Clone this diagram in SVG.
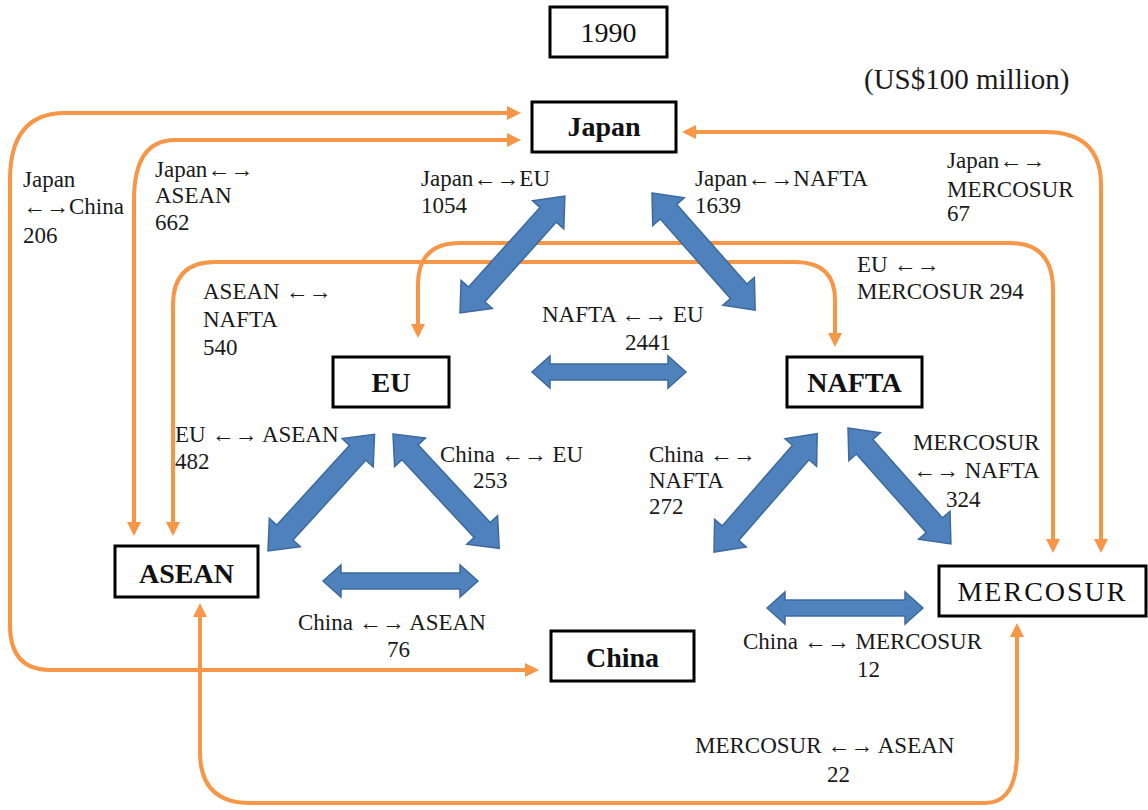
<svg xmlns="http://www.w3.org/2000/svg" width="1148" height="810" viewBox="0 0 1148 810">
  <style>
    .box { fill: #ffffff; stroke: #000000; stroke-width: 3; }
    .node { font-family: "Liberation Serif", "Times New Roman", serif; font-size: 28px; font-weight: bold; fill: #111111; text-anchor: middle; }
    .lbl { font-family: "Liberation Serif", "Times New Roman", serif; font-size: 23px; fill: #1a1a1a; }
    .link { fill: none; stroke: #F79646; stroke-width: 4; marker-start: url(#oa); marker-end: url(#oa); }
    .flow { fill: #4F81BD; stroke: #3C6A9F; stroke-width: 1.5; stroke-linejoin: miter; }
  </style>
  <defs>
    <marker id="oa" viewBox="0 0 14 14" refX="2" refY="7" markerWidth="14" markerHeight="14" markerUnits="userSpaceOnUse" orient="auto-start-reverse">
      <path d="M0,0 L14,7 L0,14 z" fill="#F79646"/>
    </marker>
  </defs>

  <rect width="1148" height="810" fill="#ffffff"/>

  <!-- orange trade links -->
  <g id="connectors">
    <path class="link" d="M527,670 H50 Q10,670 10,625 V180 Q10,113 65,113 H509"/>
    <path class="link" d="M134,524 V200 Q134,140 175,140 H509"/>
    <path class="link" d="M173,524 V305 Q173,262 215,262 H795 Q835,262 835,300 V335"/>
    <path class="link" d="M418,326 V285 Q418,243 460,243 H1010 Q1053,243 1053,290 V541"/>
    <path class="link" d="M694,132 H1045 Q1101,132 1101,185 V541"/>
    <path class="link" d="M200,615 V752 Q200,803 250,803 H985 Q1017,803 1017,752 V635"/>

    <!-- blue double arrows -->
    <path class="flow" transform="translate(460 313) rotate(-48.1)" d="M0,0 L25,-21 L25,-11 L132,-11 L132,-21 L157,0 L132,21 L132,11 L25,11 L25,21 Z"/>
    <path class="flow" transform="translate(652 193) rotate(48.6)" d="M0,0 L25,-21 L25,-11 L131,-11 L131,-21 L156,0 L131,21 L131,11 L25,11 L25,21 Z"/>
    <path class="flow" transform="translate(268 551) rotate(-47.6)" d="M0,0 L25,-21 L25,-11 L133,-11 L133,-21 L158,0 L133,21 L133,11 L25,11 L25,21 Z"/>
    <path class="flow" transform="translate(393 434) rotate(47.1)" d="M0,0 L25,-21 L25,-11 L131,-11 L131,-21 L156,0 L131,21 L131,11 L25,11 L25,21 Z"/>
    <path class="flow" transform="translate(714 552) rotate(-48.9)" d="M0,0 L25,-21 L25,-11 L132,-11 L132,-21 L157,0 L132,21 L132,11 L25,11 L25,21 Z"/>
    <path class="flow" transform="translate(848 428) rotate(48.4)" d="M0,0 L25,-21 L25,-11 L130,-11 L130,-21 L155,0 L130,21 L130,11 L25,11 L25,21 Z"/>
    <path class="flow" d="M532,372 l18,-16 v8 h118 v-8 l18,16 l-18,16 v-8 h-118 v8 z"/>
    <path class="flow" d="M323,581 l18,-16 v8 h119 v-8 l18,16 l-18,16 v-8 h-119 v8 z"/>
    <path class="flow" d="M767,608 l18,-16 v8 h120 v-8 l18,16 l-18,16 v-8 h-120 v8 z"/>
  </g>

  <!-- year and unit -->
  <g id="year">
    <rect class="box" x="550" y="7" width="117" height="50"/>
    <text class="node" x="608.5" y="42" style="font-weight:normal">1990</text>
  </g>
  <text class="lbl" x="864" y="89" style="font-size:29px">(US$100 million)</text>

  <!-- regions -->
  <g id="japan">
    <rect class="box" x="532" y="102" width="144" height="50"/>
    <text class="node" x="604" y="136">Japan</text>
  </g>
  <g id="eu">
    <rect class="box" x="333" y="357" width="116" height="50"/>
    <text class="node" x="391" y="392">EU</text>
  </g>
  <g id="nafta">
    <rect class="box" x="787" y="357" width="135" height="50"/>
    <text class="node" x="854.5" y="392">NAFTA</text>
  </g>
  <g id="asean">
    <rect class="box" x="115" y="546" width="143" height="51"/>
    <text class="node" x="186.5" y="583">ASEAN</text>
  </g>
  <g id="china">
    <rect class="box" x="551" y="631" width="143" height="50"/>
    <text class="node" x="622.5" y="667">China</text>
  </g>
  <g id="mercosur">
    <rect class="box" x="939" y="566" width="207" height="50"/>
    <text class="node" x="1042.5" y="601" style="font-weight:normal;letter-spacing:2px">MERCOSUR</text>
  </g>

  <!-- trade values -->
  <g id="values">
    <text class="lbl" x="23" y="187">Japan</text>
    <text class="lbl" x="23" y="214">←→China</text>
    <text class="lbl" x="23" y="243">206</text>

    <text class="lbl" x="155" y="177">Japan←→</text>
    <text class="lbl" x="155" y="203">ASEAN</text>
    <text class="lbl" x="155" y="230">662</text>

    <text class="lbl" x="421" y="186">Japan←→EU</text>
    <text class="lbl" x="421" y="213">1054</text>

    <text class="lbl" x="695" y="186">Japan←→NAFTA</text>
    <text class="lbl" x="695" y="213">1639</text>

    <text class="lbl" x="947" y="168">Japan←→</text>
    <text class="lbl" x="947" y="197">MERCOSUR</text>
    <text class="lbl" x="947" y="221">67</text>

    <text class="lbl" x="857" y="272">EU ←→</text>
    <text class="lbl" x="857" y="299">MERCOSUR 294</text>

    <text class="lbl" x="203" y="299">ASEAN ←→</text>
    <text class="lbl" x="203" y="327">NAFTA</text>
    <text class="lbl" x="203" y="355">540</text>

    <text class="lbl" x="542" y="322">NAFTA ←→ EU</text>
    <text class="lbl" x="625" y="350">2441</text>

    <text class="lbl" x="175" y="442">EU ←→ ASEAN</text>
    <text class="lbl" x="175" y="469">482</text>

    <text class="lbl" x="440" y="462">China ←→ EU</text>
    <text class="lbl" x="473" y="488">253</text>

    <text class="lbl" x="649" y="462">China ←→</text>
    <text class="lbl" x="649" y="488">NAFTA</text>
    <text class="lbl" x="649" y="514">272</text>

    <text class="lbl" x="913" y="450">MERCOSUR</text>
    <text class="lbl" x="913" y="478">←→ NAFTA</text>
    <text class="lbl" x="946" y="507">324</text>

    <text class="lbl" x="298" y="630">China ←→ ASEAN</text>
    <text class="lbl" x="387" y="657">76</text>

    <text class="lbl" x="743" y="649">China ←→ MERCOSUR</text>
    <text class="lbl" x="857" y="677">12</text>

    <text class="lbl" x="695" y="753">MERCOSUR ←→ ASEAN</text>
    <text class="lbl" x="827" y="782">22</text>
  </g>
</svg>
